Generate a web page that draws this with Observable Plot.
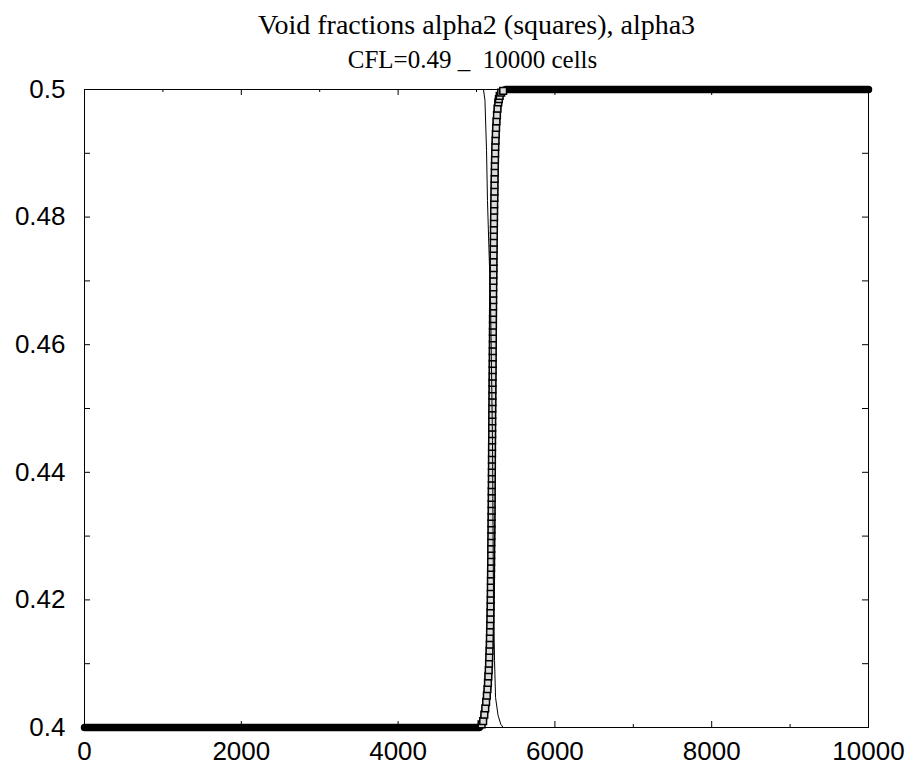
<!DOCTYPE html>
<html>
<head>
<meta charset="utf-8">
<script src="https://cdn.jsdelivr.net/npm/d3@7"></script>
<script src="https://cdn.jsdelivr.net/npm/@observablehq/plot@0.6"></script>
<style>
  html, body { margin: 0; padding: 0; background: white; }
</style>
</head>
<body>
<div id="chart"></div>
<script>
// ---- Chart text ----
const titleText = "Void fractions alpha2 (squares), alpha3";
const subtitleText = "CFL=0.49 _  10000 cells";

// ---- Ticks ----
const xMajorTicks = [0, 2000, 4000, 6000, 8000, 10000];
const xMinorTicks = [1000, 3000, 5000, 7000, 9000];
const yLabelTicks = [0.4, 0.42, 0.44, 0.46, 0.48, 0.5];
const yAllTicks = [0.4, 0.41, 0.42, 0.43, 0.44, 0.45, 0.46, 0.47, 0.48, 0.49, 0.5];

// ---- alpha2 (squares): flat 0.4 -> transition -> flat 0.5 ----
const alpha2X = [0, 5040,
  5065, 5085, 5100, 5112, 5123, 5132, 5140, 5146, 5151, 5156,
  5160, 5163, 5166, 5169, 5171, 5173, 5175, 5177, 5178, 5180,
  5181, 5182, 5183, 5184, 5185, 5186, 5187, 5188, 5188, 5189,
  5190, 5191, 5191, 5192, 5193, 5193, 5194, 5194, 5195, 5196,
  5196, 5197, 5197, 5198, 5198, 5199, 5200, 5200, 5201, 5201,
  5202, 5203, 5203, 5204, 5204, 5205, 5206, 5206, 5207, 5207,
  5208, 5209, 5209, 5210, 5210, 5211, 5212, 5213, 5213, 5214,
  5215, 5216, 5217, 5217, 5218, 5219, 5220, 5221, 5222, 5223,
  5224, 5225, 5226, 5228, 5229, 5230, 5231, 5233, 5234, 5236,
  5238, 5240, 5243, 5246, 5250, 5255, 5261, 5268, 5278, 5286,
  5296, 5315, 5340,
  5370, 10000];
const alpha2Y = [0.4, 0.4,
  0.4005, 0.401, 0.402, 0.403, 0.404, 0.405, 0.406, 0.407, 0.408, 0.409,
  0.410, 0.411, 0.412, 0.413, 0.414, 0.415, 0.416, 0.417, 0.418, 0.419,
  0.420, 0.421, 0.422, 0.423, 0.424, 0.425, 0.426, 0.427, 0.428, 0.429,
  0.430, 0.431, 0.432, 0.433, 0.434, 0.435, 0.436, 0.437, 0.438, 0.439,
  0.440, 0.441, 0.442, 0.443, 0.444, 0.445, 0.446, 0.447, 0.448, 0.449,
  0.450, 0.451, 0.452, 0.453, 0.454, 0.455, 0.456, 0.457, 0.458, 0.459,
  0.460, 0.461, 0.462, 0.463, 0.464, 0.465, 0.466, 0.467, 0.468, 0.469,
  0.470, 0.471, 0.472, 0.473, 0.474, 0.475, 0.476, 0.477, 0.478, 0.479,
  0.480, 0.481, 0.482, 0.483, 0.484, 0.485, 0.486, 0.487, 0.488, 0.489,
  0.490, 0.491, 0.492, 0.493, 0.494, 0.495, 0.496, 0.497, 0.498, 0.4985,
  0.499, 0.4995, 0.4998,
  0.5, 0.5];

// ---- alpha3 (thin line): 0.5 -> 0.4 ----
const alpha3X = [0, 5089, 5108, 5128, 5140, 5179, 5204, 5217, 5230, 5243, 5275, 5310, 5340, 10000];
const alpha3Y = [0.5, 0.5, 0.4983, 0.4904, 0.4826, 0.4669, 0.4450, 0.4199, 0.4105, 0.4047, 0.4019, 0.4005, 0.4, 0.4];

const alpha2 = alpha2X.map((x, i) => ({x, y: alpha2Y[i]}));
const alpha2Squares = alpha2.filter(d => d.y > 0.4 && d.y < 0.5);
const alpha3 = alpha3X.map((x, i) => ({x, y: alpha3Y[i]}));

const W = 912, H = 767;
const mTop = 89, mBottom = 40, mLeft = 84, mRight = 44;
const frameW = W - mLeft - mRight;
const frameH = H - mTop - mBottom;

const chart = Plot.plot({
  width: W,
  height: H,
  marginTop: mTop,
  marginBottom: mBottom,
  marginLeft: mLeft,
  marginRight: mRight,
  style: {fontFamily: "'Liberation Sans', Arial, sans-serif", fontSize: "26px", background: "white", color: "black", overflow: "visible"},
  x: {domain: [0, 10000], label: null},
  y: {domain: [0.4, 0.5], label: null},
  marks: [
    Plot.frame({stroke: "black", strokeWidth: 1}),
    // inward ticks
    Plot.ruleX(xMajorTicks, {x: d => d, insetTop: frameH - 6, stroke: "black"}),
    Plot.ruleX(xMajorTicks, {x: d => d, insetBottom: frameH - 6, stroke: "black"}),
    Plot.ruleX(xMinorTicks, {x: d => d, insetTop: frameH - 3, stroke: "black"}),
    Plot.ruleX(xMinorTicks, {x: d => d, insetBottom: frameH - 3, stroke: "black"}),
    Plot.ruleY(yAllTicks, {y: d => d, insetRight: frameW - 6, stroke: "black"}),
    Plot.ruleY(yAllTicks, {y: d => d, insetLeft: frameW - 6, stroke: "black"}),
    Plot.axisX({ticks: xMajorTicks, tickSize: 0, tickPadding: 14, tickFormat: d => String(d), fontSize: 26, label: null}),
    Plot.axisY({ticks: yLabelTicks, tickSize: 0, tickPadding: 19, tickFormat: d3.format("~g"), fontSize: 26, label: null}),
    // alpha2 thick band + squares
    Plot.line(alpha2, {x: "x", y: "y", stroke: "black", strokeWidth: 7.5}),
    Plot.dot(alpha2Squares, {x: "x", y: "y", symbol: "square", r: 3.8, fill: "#dcdcdc", stroke: "black", strokeWidth: 1.5}),
    // alpha3 thin line
    Plot.line(alpha3, {x: "x", y: "y", stroke: "black", strokeWidth: 1}),
    // titles
    Plot.text([titleText], {frameAnchor: "top", lineAnchor: "middle", dy: -64, fontFamily: "'Liberation Serif', 'Times New Roman', serif", fontSize: 28, fill: "black"}),
    Plot.text([subtitleText], {frameAnchor: "top", lineAnchor: "middle", dy: -30, dx: -4, fontFamily: "'Liberation Serif', 'Times New Roman', serif", fontSize: 25, fill: "black"})
  ]
});

document.getElementById("chart").appendChild(chart);
</script>
</body>
</html>
